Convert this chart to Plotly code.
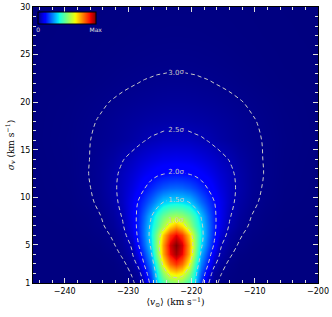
import numpy as np
import plotly.graph_objects as go

# ---- data ----
# ridge centre of the likelihood (km/s)
center_v = -222.4
# distances |<v> - centre| (km/s) for the columns of the sigma-level table
offsets_v = [0, 1, 2, 3, 4, 5, 6, 7, 8.5, 10, 12, 14, 17, 23]
# sigma_v rows (km/s)
sigma_v = [1, 2, 3, 4, 5, 6, 7, 8, 9.5, 11, 12.5, 14, 16, 18, 20, 22, 24, 27, 30]
# confidence level (in sigma) at each (sigma_v row, offset column)
nsig_1 = [1.15, 1.19, 1.31, 1.48, 1.89, 2.44, 2.80, 3.13, 3.60, 4.10, 4.70, 5.30, 6.20, 7.90]
nsig_2 = [0.88, 0.93, 1.14, 1.42, 1.76, 2.18, 2.70, 2.95, 3.35, 3.80, 4.40, 5.00, 5.90, 7.60]
nsig_3 = [0.56, 0.68, 0.94, 1.31, 1.66, 1.97, 2.41, 2.73, 3.16, 3.60, 4.20, 4.80, 5.70, 7.40]
nsig_4 = [0.25, 0.45, 0.79, 1.17, 1.56, 1.84, 2.18, 2.55, 2.91, 3.30, 3.80, 4.35, 5.20, 6.90]
nsig_5 = [0.07, 0.39, 0.77, 1.13, 1.47, 1.74, 2.02, 2.45, 2.78, 3.06, 3.50, 3.95, 4.70, 6.30]
nsig_6 = [0.43, 0.57, 0.85, 1.15, 1.43, 1.69, 1.95, 2.25, 2.68, 2.93, 3.25, 3.60, 4.20, 5.70]
nsig_7 = [0.79, 0.89, 1.09, 1.28, 1.46, 1.69, 1.93, 2.18, 2.55, 2.79, 3.10, 3.40, 3.90, 5.30]
nsig_8 = [1.10, 1.13, 1.22, 1.35, 1.52, 1.73, 1.94, 2.15, 2.48, 2.71, 3.02, 3.30, 3.75, 5.00]
nsig_9 = [1.45, 1.46, 1.50, 1.60, 1.72, 1.86, 1.99, 2.16, 2.40, 2.62, 2.88, 3.13, 3.50, 4.50]
nsig_11 = [1.72, 1.73, 1.77, 1.83, 1.91, 2.01, 2.12, 2.23, 2.40, 2.57, 2.82, 3.06, 3.40, 4.20]
nsig_12 = [1.98, 1.99, 2.01, 2.04, 2.09, 2.15, 2.22, 2.30, 2.43, 2.59, 2.81, 3.02, 3.35, 4.00]
nsig_14 = [2.16, 2.17, 2.18, 2.21, 2.24, 2.29, 2.34, 2.41, 2.52, 2.66, 2.84, 3.03, 3.30, 3.90]
nsig_16 = [2.40, 2.40, 2.41, 2.44, 2.47, 2.51, 2.57, 2.63, 2.72, 2.80, 2.91, 3.03, 3.25, 3.75]
nsig_18 = [2.59, 2.59, 2.60, 2.62, 2.63, 2.66, 2.69, 2.72, 2.78, 2.85, 2.96, 3.08, 3.29, 3.77]
nsig_20 = [2.75, 2.75, 2.76, 2.77, 2.79, 2.81, 2.83, 2.86, 2.91, 2.97, 3.07, 3.17, 3.36, 3.78]
nsig_22 = [2.91, 2.91, 2.92, 2.93, 2.95, 2.97, 3.00, 3.03, 3.08, 3.15, 3.24, 3.36, 3.55, 4.00]
nsig_24 = [3.07, 3.07, 3.08, 3.09, 3.11, 3.13, 3.15, 3.18, 3.23, 3.29, 3.38, 3.49, 3.67, 4.10]
nsig_27 = [3.28, 3.28, 3.29, 3.30, 3.31, 3.33, 3.36, 3.38, 3.43, 3.48, 3.57, 3.67, 3.84, 4.25]
nsig_30 = [3.45, 3.45, 3.46, 3.47, 3.48, 3.50, 3.52, 3.55, 3.59, 3.64, 3.72, 3.82, 3.98, 4.35]

x_ticks = [-240, -230, -220, -210, -200]
y_ticks = [1, 5, 10, 15, 20, 25, 30]
contour_levels = [1.0, 1.5, 2.0, 2.5, 3.0]
colorbar_labels = ["0", "Max"]

rows = [nsig_1, nsig_2, nsig_3, nsig_4, nsig_5, nsig_6, nsig_7, nsig_8, nsig_9,
        nsig_11, nsig_12, nsig_14, nsig_16, nsig_18, nsig_20, nsig_22, nsig_24,
        nsig_27, nsig_30]

# mirrored table (the likelihood is symmetric about the ridge)
x = [center_v - d for d in reversed(offsets_v[1:])] + [center_v + d for d in offsets_v]
S = np.array([list(reversed(r[1:])) + r for r in rows])
density = np.exp(-0.5 * S ** 2)

jet = [
    [0.0, "rgb(0,0,128)"], [0.11, "rgb(0,0,255)"], [0.125, "rgb(0,0,255)"],
    [0.34, "rgb(0,219,255)"], [0.35, "rgb(0,230,247)"], [0.375, "rgb(21,255,226)"],
    [0.64, "rgb(239,255,8)"], [0.65, "rgb(247,246,0)"], [0.66, "rgb(255,236,0)"],
    [0.89, "rgb(255,19,0)"], [0.91, "rgb(232,0,0)"], [1.0, "rgb(128,0,0)"],
]

fig = go.Figure()
fig.add_trace(go.Heatmap(
    x=x, y=sigma_v, z=density, zmin=0, zmax=1, zsmooth="best",
    colorscale=jet, hoverinfo="skip",
    colorbar=dict(
        orientation="h", x=0.119, xanchor="center", y=0.946, yanchor="middle",
        len=0.204, lenmode="fraction", thickness=12, thicknessmode="pixels",
        outlinewidth=1, outlinecolor="black", xpad=0, ypad=0,
        tickmode="array", tickvals=[0.004, 0.996], ticktext=colorbar_labels, ticks="",
        tickfont=dict(size=6, color="#e0e0e0", family="DejaVu Sans"),
        bgcolor="rgba(0,0,0,0)", borderwidth=0,
    ),
))
line_col = "#c8c8c8"
fig.add_trace(go.Contour(
    x=x, y=sigma_v, z=S, showscale=False, hoverinfo="skip",
    autocontour=False,
    contours=dict(start=contour_levels[0], end=contour_levels[-1], size=0.5,
                  coloring="none", showlabels=True, labelformat="$.1f",
                  labelfont=dict(size=7, color=line_col, family="DejaVu Sans")),
    line=dict(color=line_col, width=1, dash="4px,3px", smoothing=1.0),
))

axis_common = dict(
    showline=True, linecolor="black", linewidth=1, mirror="ticks",
    ticks="inside", ticklen=5, tickcolor="#dddddd", tickwidth=1,
    showgrid=False, zeroline=False, automargin=False,
    tickfont=dict(family="DejaVu Sans", size=8, color="black"),
)
fig.update_xaxes(
    range=[-245, -200], tickvals=x_ticks, **axis_common,
    minor=dict(ticks="inside", ticklen=3, tickcolor="#dddddd", dtick=2, tick0=-200, showgrid=False),
    title=dict(text="⟨<i>v</i><sub>⊙</sub>⟩ (km s<sup>−1</sup>)",
               font=dict(family="DejaVu Serif", size=9, color="black"), standoff=4),
)
fig.update_yaxes(
    range=[1, 30], tickvals=y_ticks, **axis_common,
    minor=dict(ticks="inside", ticklen=3, tickcolor="#dddddd", dtick=1, tick0=0, showgrid=False),
    title=dict(text="<i>σ</i><sub><i>v</i></sub> (km s<sup>−1</sup>)",
               font=dict(family="DejaVu Serif", size=9, color="black"), standoff=4),
)
fig.update_layout(
    width=332, height=317,
    margin=dict(l=33, r=14, t=7, b=34, autoexpand=False),
    paper_bgcolor="white", plot_bgcolor="rgb(0,0,128)",
    showlegend=False,
)

fig.write_html(
    "out.html",
    config={
        "locale": "sig",
        "locales": {"sig": {"format": {"currency": ["", "σ"]}}},
        "displayModeBar": False,
    },
    post_script="document.body.style.margin='0';document.body.style.padding='0';",
)
